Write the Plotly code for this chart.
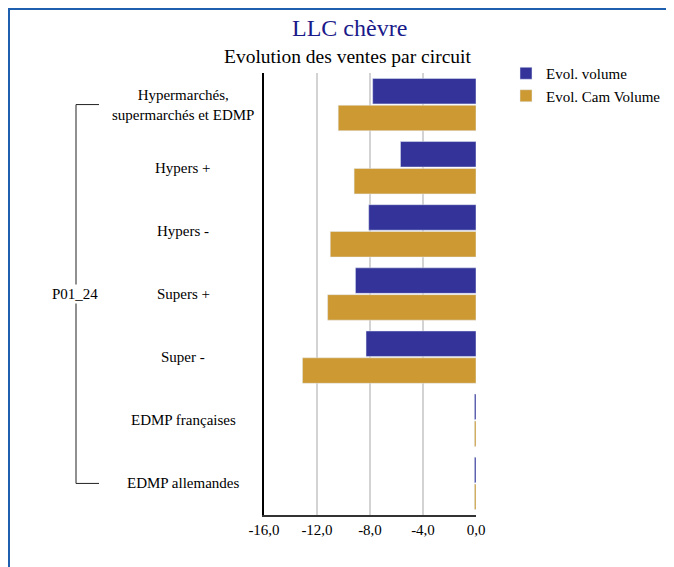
import plotly.graph_objects as go

categories = [
    "Hypermarchés,<br>supermarchés et EDMP",
    "Hypers +",
    "Hypers -",
    "Supers +",
    "Super -",
    "EDMP françaises",
    "EDMP allemandes",
]
group_label = "P01_24"
evol_volume = [-7.8, -5.7, -8.1, -9.1, -8.3, -0.12, -0.12]
evol_cam_volume = [-10.4, -9.2, -11.0, -11.2, -13.1, -0.12, -0.12]
series_names = ["Evol. volume", "Evol. Cam Volume"]
tick_values = [-16, -12, -8, -4, 0]
tick_labels = ["-16,0", "-12,0", "-8,0", "-4,0", "0,0"]
title_text = "LLC chèvre"
subtitle_text = "Evolution des ventes par circuit"

OFF = 8  # page body margin
W, H = 674 - OFF, 567 - OFF
L, R, T, B = 264 - OFF, 476 - OFF, 73 - OFF, 515 - OFF
FONT = "Liberation Serif"


def px_x(p):
    return (p - OFF - L) / (R - L)


def px_y(p):
    return 1 - (p - OFF - T) / (B - T)


fig = go.Figure()
fig.add_trace(go.Bar(y=categories, x=evol_volume, orientation="h",
                     name=series_names[0], marker_color="#333399"))
fig.add_trace(go.Bar(y=categories, x=evol_cam_volume, orientation="h",
                     name=series_names[1], marker_color="#CC9933"))

annotations = []
for c in categories:
    annotations.append(dict(x=px_x(183), y=c, xref="paper", yref="y", text=c,
                            showarrow=False, xanchor="center", yanchor="middle",
                            align="center", font=dict(family=FONT, size=15, color="#000")))
annotations.append(dict(x=px_x(75), y=categories[3], xref="paper", yref="y",
                        text=group_label, showarrow=False, xanchor="center",
                        yanchor="middle", bgcolor="white",
                        font=dict(family=FONT, size=15, color="#000")))
annotations.append(dict(x=px_x(349), y=px_y(28), xref="paper", yref="paper",
                        text=title_text, showarrow=False, xanchor="center",
                        yanchor="middle", font=dict(family=FONT, size=24, color="#1a1a8a")))
annotations.append(dict(x=px_x(348), y=px_y(57), xref="paper", yref="paper",
                        text=subtitle_text, showarrow=False, xanchor="center",
                        yanchor="middle", font=dict(family=FONT, size=19.5, color="#000")))

shapes = [
    dict(type="line", xref="paper", yref="y", x0=px_x(76), x1=px_x(76),
         y0=categories[0], y1=categories[-1], line=dict(color="#222", width=1)),
    dict(type="line", xref="paper", yref="y", x0=px_x(76), x1=px_x(99),
         y0=categories[0], y1=categories[0], line=dict(color="#222", width=1)),
    dict(type="line", xref="paper", yref="y", x0=px_x(76), x1=px_x(99),
         y0=categories[-1], y1=categories[-1], line=dict(color="#222", width=1)),
    dict(type="path", xref="paper", yref="paper",
         path=f"M {px_x(9)} {px_y(620)} L {px_x(9)} {px_y(9)} L {px_x(720)} {px_y(9)}",
         line=dict(color="#1f5fb0", width=2)),
]

fig.update_layout(
    width=W, height=H,
    margin=dict(l=L, r=W - R, t=T, b=H - B, pad=0, autoexpand=False),
    paper_bgcolor="white", plot_bgcolor="white",
    barmode="group", bargap=0.15, bargroupgap=0.05,
    font=dict(family=FONT, size=15, color="#000"),
    xaxis=dict(range=[-16, 0], tickmode="array", tickvals=tick_values,
               ticktext=tick_labels,
               showgrid=True, gridcolor="#d3d3d3", gridwidth=1.5,
               zeroline=False, showline=True, linecolor="#333", linewidth=2,
               ticks="", tickfont=dict(family=FONT, size=15, color="#000"),
               fixedrange=True),
    yaxis=dict(type="category", autorange="reversed", showticklabels=False,
               showgrid=False, zeroline=False, showline=True,
               linecolor="#000", linewidth=1.5, ticks=""),
    legend=dict(x=px_x(506), y=px_y(57), xanchor="left", yanchor="top",
                font=dict(family=FONT, size=15, color="#000"),
                bgcolor="rgba(0,0,0,0)", traceorder="normal"),
    annotations=annotations,
    shapes=shapes,
    showlegend=True,
)

fig.write_html("out.html")
